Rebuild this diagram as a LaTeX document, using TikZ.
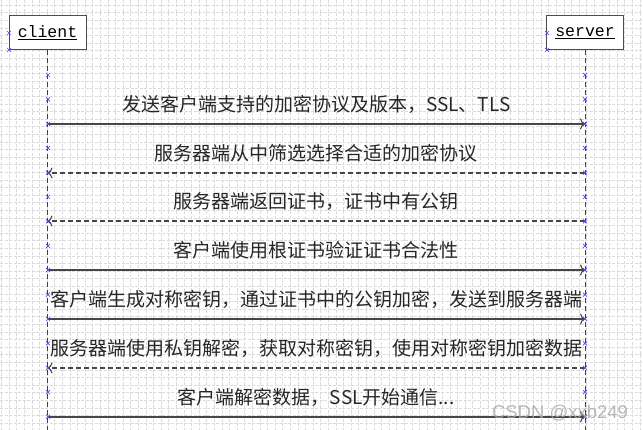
\documentclass[tikz,border=0pt]{standalone}
\usepackage{fontspec}
\setmonofont{Liberation Mono}
\newfontfamily\cjk{Noto Sans CJK SC}
\newfontfamily\wmfont{Liberation Sans}
\usetikzlibrary{positioning,arrows.meta}

\tikzset{
  gridline/.style={gray!28, line width=0.5pt, dash pattern=on 3pt off 1.5pt},
  actor/.style={draw=gray!60!black, line width=1pt, fill=white, minimum width=77pt,
    minimum height=34pt, inner sep=0pt, font=\ttfamily\fontsize{16.5}{16.5}\selectfont},
  lifeline/.style={black!75, line width=0.9pt, dash pattern=on 5pt off 3pt},
  call/.style={-{To[length=5pt,width=11pt]}, gray!55!black, line width=1.1pt},
  reply/.style={call, dash pattern=on 5pt off 3pt},
  msgtext/.style={font=\cjk\fontsize{19}{19}\selectfont, text=black!85, inner sep=1pt},
  xmarker/.style={blue!70, line width=0.7pt}
}

\begin{document}
\begin{tikzpicture}[x=1pt,y=-1pt]
  \useasboundingbox (0,0) rectangle (643,430);
  % background grid
  \foreach \x in {1.5,9.1,...,643}
    \draw[gridline] (\x,0) -- (\x,430);
  \foreach \y in {5,12.6,...,430}
    \draw[gridline] (0,\y) -- (643,\y);

  % actors and lifelines
  \node[actor] (client) at (47.5,33) {\underline{client}};
  \node[actor] (server) at (585,33) {\underline{server}};
  \coordinate (cend) at (client.south |- 0,430);
  \coordinate (send) at (server.south |- 0,430);
  \draw[lifeline] (client) -- (cend);
  \draw[lifeline] (server) -- (send);

  % messages
  \foreach \i/\y/\from/\to/\kind/\txt in {
      1/124/c/s/call/{发送客户端支持的加密协议及版本，SSL、TLS},
      2/173/s/c/reply/{服务器端从中筛选选择合适的加密协议},
      3/221/s/c/reply/{服务器端返回证书，证书中有公钥},
      4/270/c/s/call/{客户端使用根证书验证证书合法性},
      5/319/c/s/call/{客户端生成对称密钥，通过证书中的公钥加密，发送到服务器端},
      6/368/s/c/reply/{服务器端使用私钥解密，获取对称密钥，使用对称密钥加密数据},
      7/417/c/s/call/{客户端解密数据，SSL开始通信...}} {
    \coordinate (c\i) at (client.south |- 0,\y);
    \coordinate (s\i) at (server.south |- 0,\y);
    \draw[\kind] (\from\i) -- node[msgtext, above=9pt] (m\i) {\txt} (\to\i);
  }

  % anchor markers
  \foreach \k in {0,...,14}
    \foreach \lx in {48,585}
      \draw[xmarker, shift={(\lx,75+24.4*\k)}] (-2,-2) -- (2,2) (-2,2) -- (2,-2);
  \foreach \lx in {9,547}
    \foreach \ly in {33,50}
      \draw[xmarker, shift={(\lx,\ly)}] (-2,-2) -- (2,2) (-2,2) -- (2,-2);

  \node[font=\wmfont\fontsize{18.5}{18.5}\selectfont, text=gray!70, opacity=0.8] (mark) at (560,413) {CSDN @xxb249};
\end{tikzpicture}
\end{document}
